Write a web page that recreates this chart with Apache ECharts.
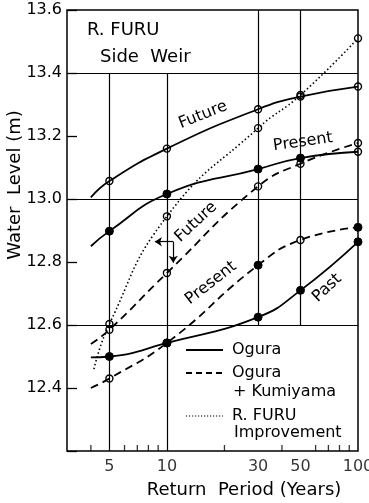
<!DOCTYPE html>
<html><head><meta charset="utf-8">
<script src="https://cdn.jsdelivr.net/npm/echarts@6/dist/echarts.min.js"></script>
<style>html,body{margin:0;padding:0;background:#fff}#c{width:369px;height:503px}</style>
</head><body><div id="c"></div>
<script>
// Return-period axis (log scale)
const xTickValues = [5, 10, 30, 50, 100];
const xTickLabels = ['5', '10', '30', '50', '100'];
const xMinorTicks = [4, 6, 7, 8, 9, 20, 40, 60, 70, 80, 90];

// Ogura (solid lines)
const oguraFuture  = [[4, 13.005], [5, 13.057], [10, 13.16], [30, 13.285], [50, 13.325], [100, 13.357]];
const oguraPresent = [[4, 12.85], [5, 12.898], [10, 13.016], [30, 13.095], [50, 13.13], [100, 13.15]];
const oguraPast    = [[4, 12.497], [5, 12.50], [10, 12.543], [30, 12.625], [50, 12.71], [100, 12.864]];
// Ogura + Kumiyama (dashed lines)
const kumiyamaFuture  = [[4, 12.54], [5, 12.585], [10, 12.765], [30, 13.04], [50, 13.112], [100, 13.178]];
const kumiyamaPresent = [[4, 12.40], [5, 12.43], [10, 12.543], [30, 12.79], [50, 12.87], [100, 12.91]];
// R. FURU improvement (dotted line)
const furuImprovement = [[4.15, 12.46], [5, 12.603], [10, 12.945], [30, 13.225], [50, 13.33], [100, 13.51]];

// marker kind per point: '-' none, 'o' open circle, 'f' filled circle
const markOguraFuture = '-ooooo';
const markOguraPresent = '-ffffo';
const markOguraPast = '-fffff';
const markKumiyamaFuture = '-ooooo';
const markKumiyamaPresent = '-offof';
const markFuru = '-ooooo';

const FONT = '"DejaVu Sans", sans-serif';
const YMIN = 12.2, YMAX = 13.6;

function curve(name, data, kinds, dash, width) {
  return {
    name, type: 'line', silent: true, z: 3,
    smooth: 0.5,
    showSymbol: true, showAllSymbol: true,
    lineStyle: { color: '#000', width: width, type: dash, cap: 'butt' },
    data: data.map((p, i) => {
      const k = kinds[i];
      return {
        value: p,
        symbol: k === '-' ? 'none' : 'circle',
        symbolSize: k === 'f' ? 8 : 7,
        itemStyle: k === 'f'
          ? { color: '#000', borderColor: '#000', borderWidth: 1 }
          : { color: 'rgba(255,255,255,0)', borderColor: '#000', borderWidth: 1.4 }
      };
    })
  };
}

function seg(x1, y1, x2, y2, endSymbol) {
  return [{ coord: [x1, y1], symbol: 'none' }, { coord: [x2, y2], symbol: endSymbol || 'none' }];
}

const gridLineStyle = { color: '#000', width: 1.2, type: 'solid' };

const chart = echarts.init(document.getElementById('c'), null, { renderer: 'canvas' });
chart.setOption({
  animation: false,
  backgroundColor: '#fff',
  grid: { left: 67, right: 11, top: 10, bottom: 52, show: true, borderColor: '#000', borderWidth: 1.5, backgroundColor: 'transparent' },
  xAxis: {
    type: 'log', logBase: 10, min: 3, max: 100,
    axisLine: { show: false }, axisTick: { show: false }, axisLabel: { show: false }, splitLine: { show: false }
  },
  yAxis: {
    type: 'value', min: YMIN, max: YMAX, interval: 0.2,
    axisLine: { show: false },
    axisTick: { show: true, inside: true, length: 10, lineStyle: { color: '#000', width: 1.3 } },
    axisLabel: {
      margin: 5, color: '#000', fontSize: 16, fontFamily: FONT,
      formatter: v => (v < 12.3 ? '' : v.toFixed(1))
    },
    splitLine: { show: false }
  },
  series: [
    // tick labels along the return-period axis
    {
      type: 'scatter', silent: true, z: 2,
      symbol: 'circle', symbolSize: 1, itemStyle: { color: 'rgba(0,0,0,0)' },
      data: xTickValues.map((v, i) => ({ value: [v, YMIN], label: { formatter: xTickLabels[i] } })),
      label: { show: true, position: 'bottom', distance: 7, color: '#000', fontSize: 16, fontFamily: FONT },
      markLine: {
        silent: true, symbol: ['none', 'none'], label: { show: false },
        lineStyle: gridLineStyle,
        data: [
          // horizontal reference lines
          seg(3, 13.4, 100, 13.4), seg(3, 13.0, 100, 13.0), seg(3, 12.6, 100, 12.6),
          // vertical reference lines
          seg(5, YMIN, 5, 13.4), seg(10, YMIN, 10, 13.4),
          seg(30, 12.6, 30, YMAX), seg(50, 12.6, 50, YMAX)
        ]
      }
    },
    // minor ticks on the return-period axis
    {
      type: 'scatter', silent: true, z: 2,
      symbol: 'rect', symbolSize: [1.3, 6], symbolOffset: [0, -3],
      itemStyle: { color: '#000' },
      data: xMinorTicks.map(v => [v, YMIN])
    },
    // pointer arrows from the dashed "Future" label
    {
      type: 'line', silent: true, data: [], z: 2,
      markLine: {
        silent: true, symbolSize: 7, label: { show: false },
        lineStyle: { color: '#000', width: 1.2, type: 'solid' },
        data: [
          seg(10.79, 12.8644, 8.65, 12.8644, 'arrow'),
          seg(10.79, 12.8644, 10.79, 12.798, 'arrow')
        ]
      }
    },
    curve('Ogura Future', oguraFuture, markOguraFuture, 'solid', 1.8),
    curve('Ogura Present', oguraPresent, markOguraPresent, 'solid', 1.8),
    curve('Ogura Past', oguraPast, markOguraPast, 'solid', 1.8),
    curve('Ogura + Kumiyama Future', kumiyamaFuture, markKumiyamaFuture, [8, 5], 1.8),
    curve('Ogura + Kumiyama Present', kumiyamaPresent, markKumiyamaPresent, [8, 5], 1.8),
    curve('R. FURU Improvement', furuImprovement, markFuru, [1.5, 2.5], 1.6)
  ],
  graphic: [
    // title block
    { type: 'text', x: 87, y: 30, style: { text: 'R. FURU', fontSize: 18, fontFamily: FONT, fill: '#000', verticalAlign: 'middle' } },
    { type: 'text', x: 100, y: 57, style: { text: 'Side  Weir', fontSize: 18, fontFamily: FONT, fill: '#000', verticalAlign: 'middle' } },
    // axis names
    { type: 'text', x: 15, y: 185, rotation: Math.PI / 2, style: { text: 'Water  Level (m)', fontSize: 18, fontFamily: FONT, fill: '#000', align: 'center', verticalAlign: 'middle' } },
    { type: 'text', x: 244, y: 490, style: { text: 'Return  Period (Years)', fontSize: 18, fontFamily: FONT, fill: '#000', align: 'center', verticalAlign: 'middle' } },
    // curve labels
    { type: 'text', x: 203, y: 115, rotation: 0.38, style: { text: 'Future', fontSize: 16, fontFamily: FONT, fill: '#000', align: 'center', verticalAlign: 'middle' } },
    { type: 'text', x: 303, y: 142, rotation: 0.14, style: { text: 'Present', fontSize: 16, fontFamily: FONT, fill: '#000', align: 'center', verticalAlign: 'middle' } },
    { type: 'text', x: 196, y: 222, rotation: 0.75, style: { text: 'Future', fontSize: 16, fontFamily: FONT, fill: '#000', align: 'center', verticalAlign: 'middle' } },
    { type: 'text', x: 211, y: 283, rotation: 0.66, style: { text: 'Present', fontSize: 16, fontFamily: FONT, fill: '#000', align: 'center', verticalAlign: 'middle' } },
    { type: 'text', x: 327, y: 288, rotation: 0.75, style: { text: 'Past', fontSize: 16, fontFamily: FONT, fill: '#000', align: 'center', verticalAlign: 'middle' } },
    // legend
    { type: 'line', shape: { x1: 186, y1: 350, x2: 223, y2: 350 }, style: { stroke: '#000', lineWidth: 1.8 } },
    { type: 'text', x: 232, y: 350, style: { text: 'Ogura', fontSize: 16, fontFamily: FONT, fill: '#000', verticalAlign: 'middle' } },
    { type: 'line', shape: { x1: 186, y1: 373, x2: 223, y2: 373 }, style: { stroke: '#000', lineWidth: 1.8, lineDash: [6, 4] } },
    { type: 'text', x: 232, y: 373, style: { text: 'Ogura', fontSize: 16, fontFamily: FONT, fill: '#000', verticalAlign: 'middle' } },
    { type: 'text', x: 233, y: 392, style: { text: '+ Kumiyama', fontSize: 16, fontFamily: FONT, fill: '#000', verticalAlign: 'middle' } },
    { type: 'line', shape: { x1: 186, y1: 416, x2: 223, y2: 416 }, style: { stroke: '#000', lineWidth: 1.2, lineDash: [1.2, 1.8] } },
    { type: 'text', x: 232, y: 416, style: { text: 'R. FURU', fontSize: 16, fontFamily: FONT, fill: '#000', verticalAlign: 'middle' } },
    { type: 'text', x: 234, y: 433, style: { text: 'Improvement', fontSize: 16, fontFamily: FONT, fill: '#000', verticalAlign: 'middle' } }
  ]
});
</script>
</body></html>
